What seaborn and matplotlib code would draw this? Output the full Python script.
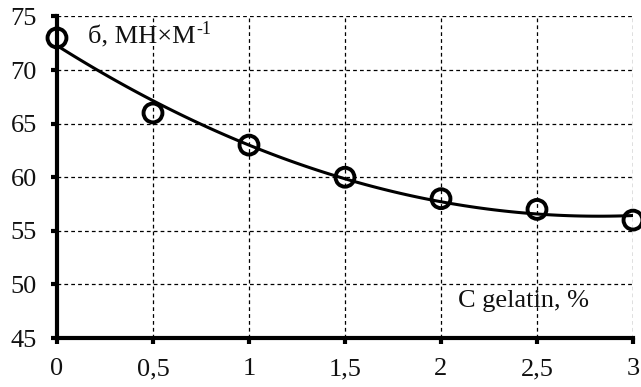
import matplotlib
matplotlib.use("Agg")
import matplotlib.pyplot as plt
import seaborn as sns
import pandas as pd

conc = [0, 0.5, 1, 1.5, 2, 2.5, 3]
tension = [73, 66, 63, 60, 58, 57, 56]
xticks = [0, 0.5, 1, 1.5, 2, 2.5, 3]
xtick_labels = ["0", "0,5", "1", "1,5", "2", "2,5", "3"]
yticks = [45, 50, 55, 60, 65, 70, 75]

df = pd.DataFrame({"c": conc, "s": tension})

sns.set_theme(style="white")
plt.rcParams["font.family"] = ["Liberation Serif", "DejaVu Serif"]

fig = plt.figure(figsize=(6.41, 3.87), dpi=100)
ax = fig.add_axes([0.0889, 0.1266, 0.8986, 0.8308])

sns.regplot(data=df, x="c", y="s", order=2, ci=None, scatter=False,
            color="black", line_kws={"linewidth": 2.2, "zorder": 3}, ax=ax)
sns.scatterplot(data=df, x="c", y="s", s=185, facecolors="none",
                edgecolor="black", linewidth=2.8, zorder=4, clip_on=False, ax=ax)

ax.set_xlim(0, 3)
ax.set_ylim(45, 75)
ax.set_xticks(xticks)
ax.set_xticklabels(xtick_labels)
ax.set_yticks(yticks)
ax.set_xlabel("")
ax.set_ylabel("")

ax.grid(True, color="black", linestyle=(0, (3, 2.5)), linewidth=0.9)
ax.set_axisbelow(True)

for side in ["top", "right"]:
    ax.spines[side].set_visible(False)
for side in ["left", "bottom"]:
    ax.spines[side].set_linewidth(3)
    ax.spines[side].set_color("black")
    ax.spines[side].set_zorder(5)

ax.tick_params(axis="both", which="major", direction="out", length=4.5,
               width=3, color="black", labelsize=19, labelcolor="#111111", pad=10,
               bottom=True, left=True)

t = ax.text(0.16, 72.5, "б, МН×М", fontsize=19, color="#111111")
ax.annotate("-1", xy=(1, 1), xycoords=t, xytext=(0.5, 3.5), textcoords="offset points",
            ha="left", va="top", fontsize=13, color="#111111")
ax.text(2.09, 47.9, "C gelatin, %", fontsize=19, color="#111111")

fig.savefig("out.png", dpi=100)
